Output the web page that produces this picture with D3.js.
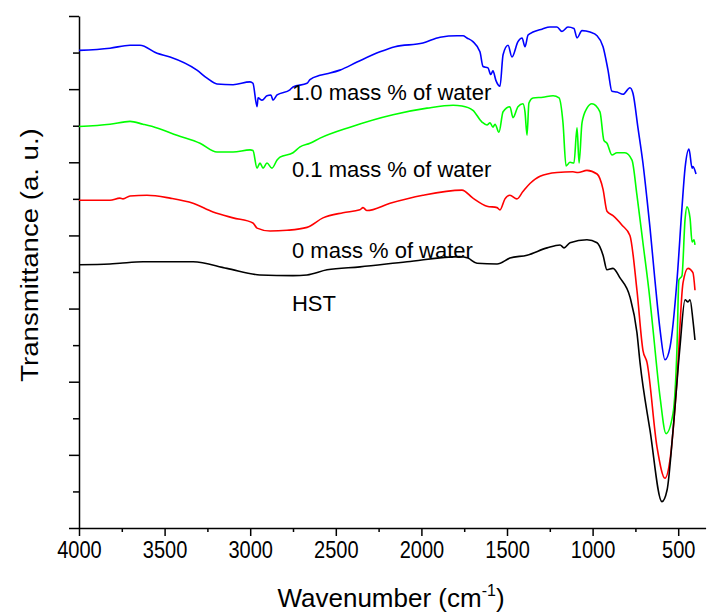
<!DOCTYPE html>
<html>
<head>
<meta charset="utf-8">
<script src="https://cdn.jsdelivr.net/npm/d3@7"></script>
<style>
  body { margin: 0; background: #fff; }
  text { font-family: Arial, "Liberation Sans", sans-serif; fill: #000; }
</style>
</head>
<body>
<svg id="chart" width="709" height="614"></svg>
<script>
// spectra, [wavenumber cm-1, transmittance a.u.]
const water10 = [
  [4000,6.53],[3819,6.56],[3702,6.60],[3644,6.60],[3544,6.49],[3468,6.44],[3311,6.26],
  [3252,6.15],[3194,6.07],[3100,6.06],[3001,6.10],[2984,6.08],[2960,5.76],[2954,5.88],
  [2931,5.85],[2902,5.91],[2879,5.92],[2867,5.85],[2843,5.92],[2768,5.99],[2750,6.03],
  [2668,6.08],[2651,6.13],[2592,6.19],[2534,6.22],[2476,6.26],[2376,6.37],[2242,6.51],
  [2154,6.58],[1991,6.63],[1891,6.71],[1792,6.73],[1757,6.73],[1734,6.70],[1699,6.65],
  [1658,6.51],[1640,6.31],[1611,6.29],[1595,6.20],[1582,6.25],[1565,6.12],[1541,6.04],
  [1523,6.47],[1494,6.60],[1471,6.44],[1436,6.65],[1412,6.70],[1395,6.58],[1377,6.74],
  [1348,6.78],[1296,6.82],[1249,6.85],[1208,6.85],[1179,6.79],[1144,6.85],[1109,6.83],
  [1091,6.70],[1062,6.80],[1015,6.78],[974,6.73],[939,6.58],[910,6.26],[887,5.97],
  [858,5.96],[822,5.93],[782,6.02],[764,5.94],[735,5.47],[706,4.99],[682,4.49],
  [665,4.11],[636,3.39],[606,2.71],[577,2.30],[548,2.47],[507,3.39],[478,4.38],
  [460,4.92],[437,5.18],[419,4.92],[414,4.94],[396,4.84]
];
const water01 = [
  [4000,5.49],[3819,5.52],[3702,5.56],[3626,5.52],[3544,5.47],[3428,5.37],[3293,5.26],
  [3194,5.14],[3100,5.14],[3001,5.17],[2984,5.16],[2960,4.92],[2943,4.99],[2925,4.92],
  [2902,4.99],[2873,4.92],[2843,5.03],[2826,5.07],[2750,5.13],[2709,5.21],[2651,5.26],
  [2592,5.33],[2417,5.48],[2166,5.65],[1967,5.74],[1815,5.78],[1763,5.77],[1699,5.71],
  [1646,5.55],[1617,5.51],[1599,5.54],[1582,5.48],[1570,5.52],[1547,5.41],[1523,5.69],
  [1483,5.76],[1465,5.61],[1436,5.76],[1407,5.80],[1395,5.69],[1383,5.37],[1372,5.81],
  [1348,5.88],[1290,5.89],[1231,5.91],[1196,5.88],[1173,5.54],[1155,4.95],[1132,5.00],
  [1109,4.99],[1091,5.47],[1079,4.99],[1062,5.54],[1033,5.74],[1004,5.80],[957,5.69],
  [934,5.30],[916,5.26],[887,5.10],[858,5.13],[811,5.13],[770,5.03],[741,4.55],
  [706,3.90],[665,3.12],[647,2.71],[606,1.79],[571,1.29],[530,1.57],[507,2.47],
  [496,3.39],[478,3.45],[460,4.22],[449,4.39],[431,4.24],[419,3.91],[408,3.94],[402,3.87]
];
const water0 = [
  [4000,4.48],[3819,4.48],[3761,4.51],[3743,4.50],[3702,4.54],[3603,4.55],[3468,4.51],
  [3334,4.44],[3217,4.32],[3100,4.24],[2984,4.17],[2960,4.10],[2884,4.06],[2785,4.07],
  [2668,4.11],[2575,4.24],[2458,4.31],[2359,4.35],[2341,4.38],[2318,4.34],[2183,4.44],
  [1991,4.55],[1763,4.62],[1699,4.51],[1617,4.40],[1558,4.38],[1541,4.35],[1512,4.50],
  [1483,4.55],[1442,4.50],[1407,4.60],[1366,4.71],[1307,4.81],[1208,4.86],[1115,4.87],
  [1085,4.86],[1033,4.89],[974,4.84],[939,4.63],[916,4.33],[881,4.27],[828,4.14],
  [782,4.00],[741,3.25],[706,2.43],[682,2.26],[624,1.11],[577,0.68],[548,0.93],
  [507,2.02],[472,3.35],[443,3.55],[414,3.49],[402,3.25]
];
const hst = [
  [4000,3.60],[3819,3.61],[3761,3.62],[3626,3.64],[3334,3.64],[3136,3.55],[2943,3.46],
  [2750,3.45],[2668,3.46],[2551,3.53],[2359,3.57],[2084,3.64],[1775,3.71],[1728,3.69],
  [1675,3.62],[1558,3.61],[1483,3.69],[1383,3.73],[1266,3.83],[1190,3.87],[1167,3.83],
  [1132,3.90],[1033,3.94],[974,3.90],[939,3.73],[916,3.53],[881,3.55],[840,3.42],
  [782,3.16],[741,2.67],[723,2.26],[665,1.34],[595,0.36],[565,0.52],[530,1.34],
  [490,2.47],[460,3.12],[443,3.09],[431,3.12],[414,2.84],[402,2.57]
];

const seriesNames = ['1.0 mass % of water', '0.1 mass % of water', '0 mass % of water', 'HST'];
const seriesData = [water10, water01, water0, hst];
const seriesColors = ['#0000ff', '#00ff00', '#ff0000', '#000000'];

const xTicks = [4000, 3500, 3000, 2500, 2000, 1500, 1000, 500];
const xMinorTicks = [3750, 3250, 2750, 2250, 1750, 1250, 750];
const yTicks = [0, 1, 2, 3, 4, 5, 6, 7];
const yMinorTicks = [0.5, 1.5, 2.5, 3.5, 4.5, 5.5, 6.5];

const svg = d3.select('#chart');

const x = d3.scaleLinear().domain([4000, 340]).range([79, 705.6]);
const y = d3.scaleLinear().domain([0, 7]).range([528, 16]);

// axes
const xAxis = svg.append('g')
  .attr('transform', 'translate(0,528)')
  .call(d3.axisBottom(x).tickValues(xTicks).tickSize(8).tickSizeOuter(0).tickPadding(6).tickFormat(d3.format('d')));
// the original tick labels are a bit condensed
xAxis.selectAll('text').attr('font-size', 23).attr('transform', 'scale(0.87,1)');

svg.append('g')
  .attr('transform', 'translate(0,528)')
  .call(d3.axisBottom(x).tickValues(xMinorTicks).tickSize(4).tickFormat(''))
  .select('.domain').remove();

svg.append('g')
  .attr('transform', 'translate(79,0)')
  .call(d3.axisLeft(y).tickValues(yTicks).tickSize(10).tickSizeOuter(0).tickFormat(''));

svg.append('g')
  .attr('transform', 'translate(79,0)')
  .call(d3.axisLeft(y).tickValues(yMinorTicks).tickSize(6).tickFormat(''))
  .select('.domain').remove();

svg.selectAll('.domain, .tick line').attr('stroke', '#000').attr('stroke-width', 1.5);
svg.selectAll('.tick text').attr('fill', '#000').attr('font-family', 'Arial, "Liberation Sans", sans-serif');

// spectra
const line = d3.line()
  .x(d => x(d[0]))
  .y(d => y(d[1]))
  .curve(d3.curveMonotoneX);

svg.append('g').selectAll('path.spectrum')
  .data(seriesData)
  .enter()
  .append('path')
  .attr('class', 'spectrum')
  .attr('fill', 'none')
  .attr('stroke', (d, i) => seriesColors[i])
  .attr('stroke-width', 1.6)
  .attr('stroke-linejoin', 'round')
  .attr('d', line);

// curve labels
const labelAnchor = [[2756, 5.85], [2756, 4.80], [2756, 3.69], [2756, 2.97]];
svg.append('g').selectAll('text')
  .data(seriesNames)
  .enter()
  .append('text')
  .attr('x', (d, i) => x(labelAnchor[i][0]))
  .attr('y', (d, i) => y(labelAnchor[i][1]))
  .attr('font-size', 22)
  .text(d => d);

// axis titles
const xTitle = svg.append('text')
  .attr('x', 391)
  .attr('y', 607)
  .attr('text-anchor', 'middle')
  .attr('font-size', 26);
xTitle.append('tspan').text('Wavenumber (cm');
xTitle.append('tspan').attr('font-size', 16).attr('dy', -11).text('-1');
xTitle.append('tspan').attr('dy', 11).text(')');

svg.append('text')
  .attr('transform', 'translate(38,255) scale(1,1.15) rotate(-90)')
  .attr('text-anchor', 'middle')
  .attr('font-size', 24)
  .text('Transmittance (a. u.)');
</script>
</body>
</html>
